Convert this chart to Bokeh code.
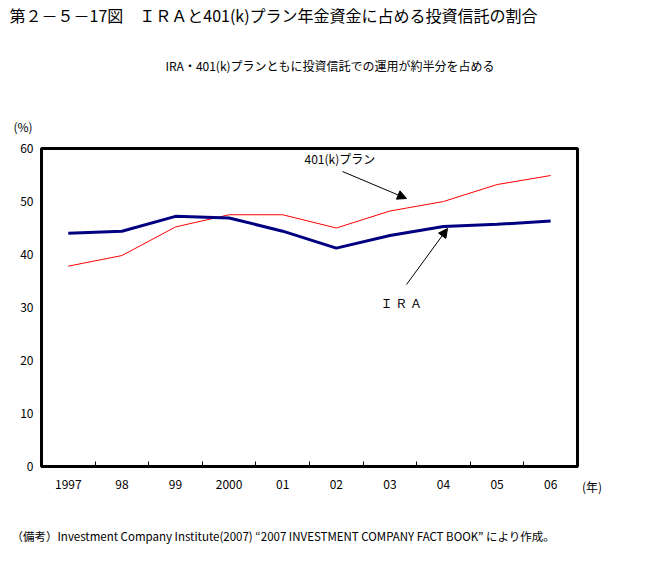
from bokeh.plotting import figure
from bokeh.models import Range1d, FixedTicker, Label, Arrow, NormalHead, Title, Div
from bokeh.layouts import row
from bokeh.embed import file_html
from bokeh.resources import INLINE

years = ["1997", "98", "99", "2000", "01", "02", "03", "04", "05", "06"]
ira = [44.0, 44.4, 47.2, 46.9, 44.4, 41.2, 43.6, 45.3, 45.7, 46.3]
k401 = [37.8, 39.8, 45.2, 47.5, 47.5, 45.0, 48.2, 50.0, 53.2, 54.9]
yticks = [0, 10, 20, 30, 40, 50, 60]

FONT = "Noto Sans CJK JP"
TOP = 0                       # figure offset from page top
W, H = 580, 582
# frame in page px
FL, FT, FR, FB = 41, 148, 577, 466

x = list(range(len(years)))
p = figure(width=W, height=H, output_backend="svg", toolbar_location=None,
           x_range=Range1d(-0.5, len(years) - 0.5), y_range=Range1d(0, 60),
           min_border_left=FL, min_border_top=FT - TOP,
           min_border_right=W - FR, min_border_bottom=H - (FB - TOP),
           margin=(TOP, 0, 0, 0))
p.title.visible = False
p.grid.visible = False
p.outline_line_color = "black"
p.outline_line_width = 3
p.background_fill_color = "white"
p.border_fill_color = "white"

xa = p.xaxis[0]
xa.ticker = FixedTicker(ticks=x, minor_ticks=[i + 0.5 for i in x[:-1]])
xa.major_label_overrides = {i: y for i, y in enumerate(years)}
xa.major_tick_in = 0
xa.major_tick_out = 0
xa.minor_tick_in = 5
xa.minor_tick_out = 0
xa.minor_tick_line_color = "black"
xa.minor_tick_line_width = 1
xa.axis_line_width = 3
xa.major_label_standoff = 13
xa.major_label_text_font = FONT
xa.major_label_text_font_size = "12px"
xa.major_label_text_color = "black"

ya = p.yaxis[0]
ya.ticker = FixedTicker(ticks=yticks)
ya.major_tick_in = 0
ya.major_tick_out = 0
ya.minor_tick_line_color = None
ya.axis_line_width = 3
ya.major_label_standoff = 8
ya.major_label_text_font = FONT
ya.major_label_text_font_size = "12px"
ya.major_label_text_color = "black"

p.line(x, k401, line_color="red", line_width=1)
p.line(x, ira, line_color="#000080", line_width=3)


def title(text, side, size, align, offset, standoff):
    p.add_layout(Title(text=text, align=align, offset=offset, standoff=standoff,
                       text_font=FONT, text_font_size=size, text_font_style="normal",
                       text_color="black"), side)


# above: first added is nearest the frame
title("(%)", "above", "12px", "left", 13 - FL, 28)
title("IRA・401(k)プランともに投資信託での運用が約半分を占める", "above", "12px", "left",
      165 - FL, 56)
title("第２－５－17図　ＩＲＡと401(k)プラン年金資金に占める投資信託の割合", "above", "16px",
      "left", 9 - FL, 0)
title("（備考）Investment Company Institute(2007) “2007 INVESTMENT COMPANY FACT BOOK” により作成。",
      "below", "11.5px", "left", 11 - FL, 69)


def dx(px):
    return -0.5 + (px - FL) * len(years) / (FR - FL)


def dy(py):
    return (FB - py) * 60 / (FB - FT)


def lab(text, px, py, size):
    p.add_layout(Label(x=dx(px), y=dy(py), text=text, text_font=FONT,
                       text_font_size=size, text_align="left",
                       text_baseline="middle", text_color="black"))


lab("401(k)プラン", 304, 158, "12px")
lab("Ｉ Ｒ Ａ", 380, 302, "12px")

for (x0, y0, x1, y1) in [(342, 171, 406, 198), (406, 284, 447, 228)]:
    p.add_layout(Arrow(end=NormalHead(size=9, fill_color="black", line_color="black"),
                       x_start=dx(x0), y_start=dy(y0), x_end=dx(x1), y_end=dy(y1),
                       line_color="black", line_width=1))

unit = Div(text="(年)", width=50, height=16, margin=(479, 0, 0, 2),
           styles={"font-family": FONT, "font-size": "12px", "line-height": "16px",
                   "color": "black"})

open("out.html", "w").write(file_html(row(p, unit), INLINE))
